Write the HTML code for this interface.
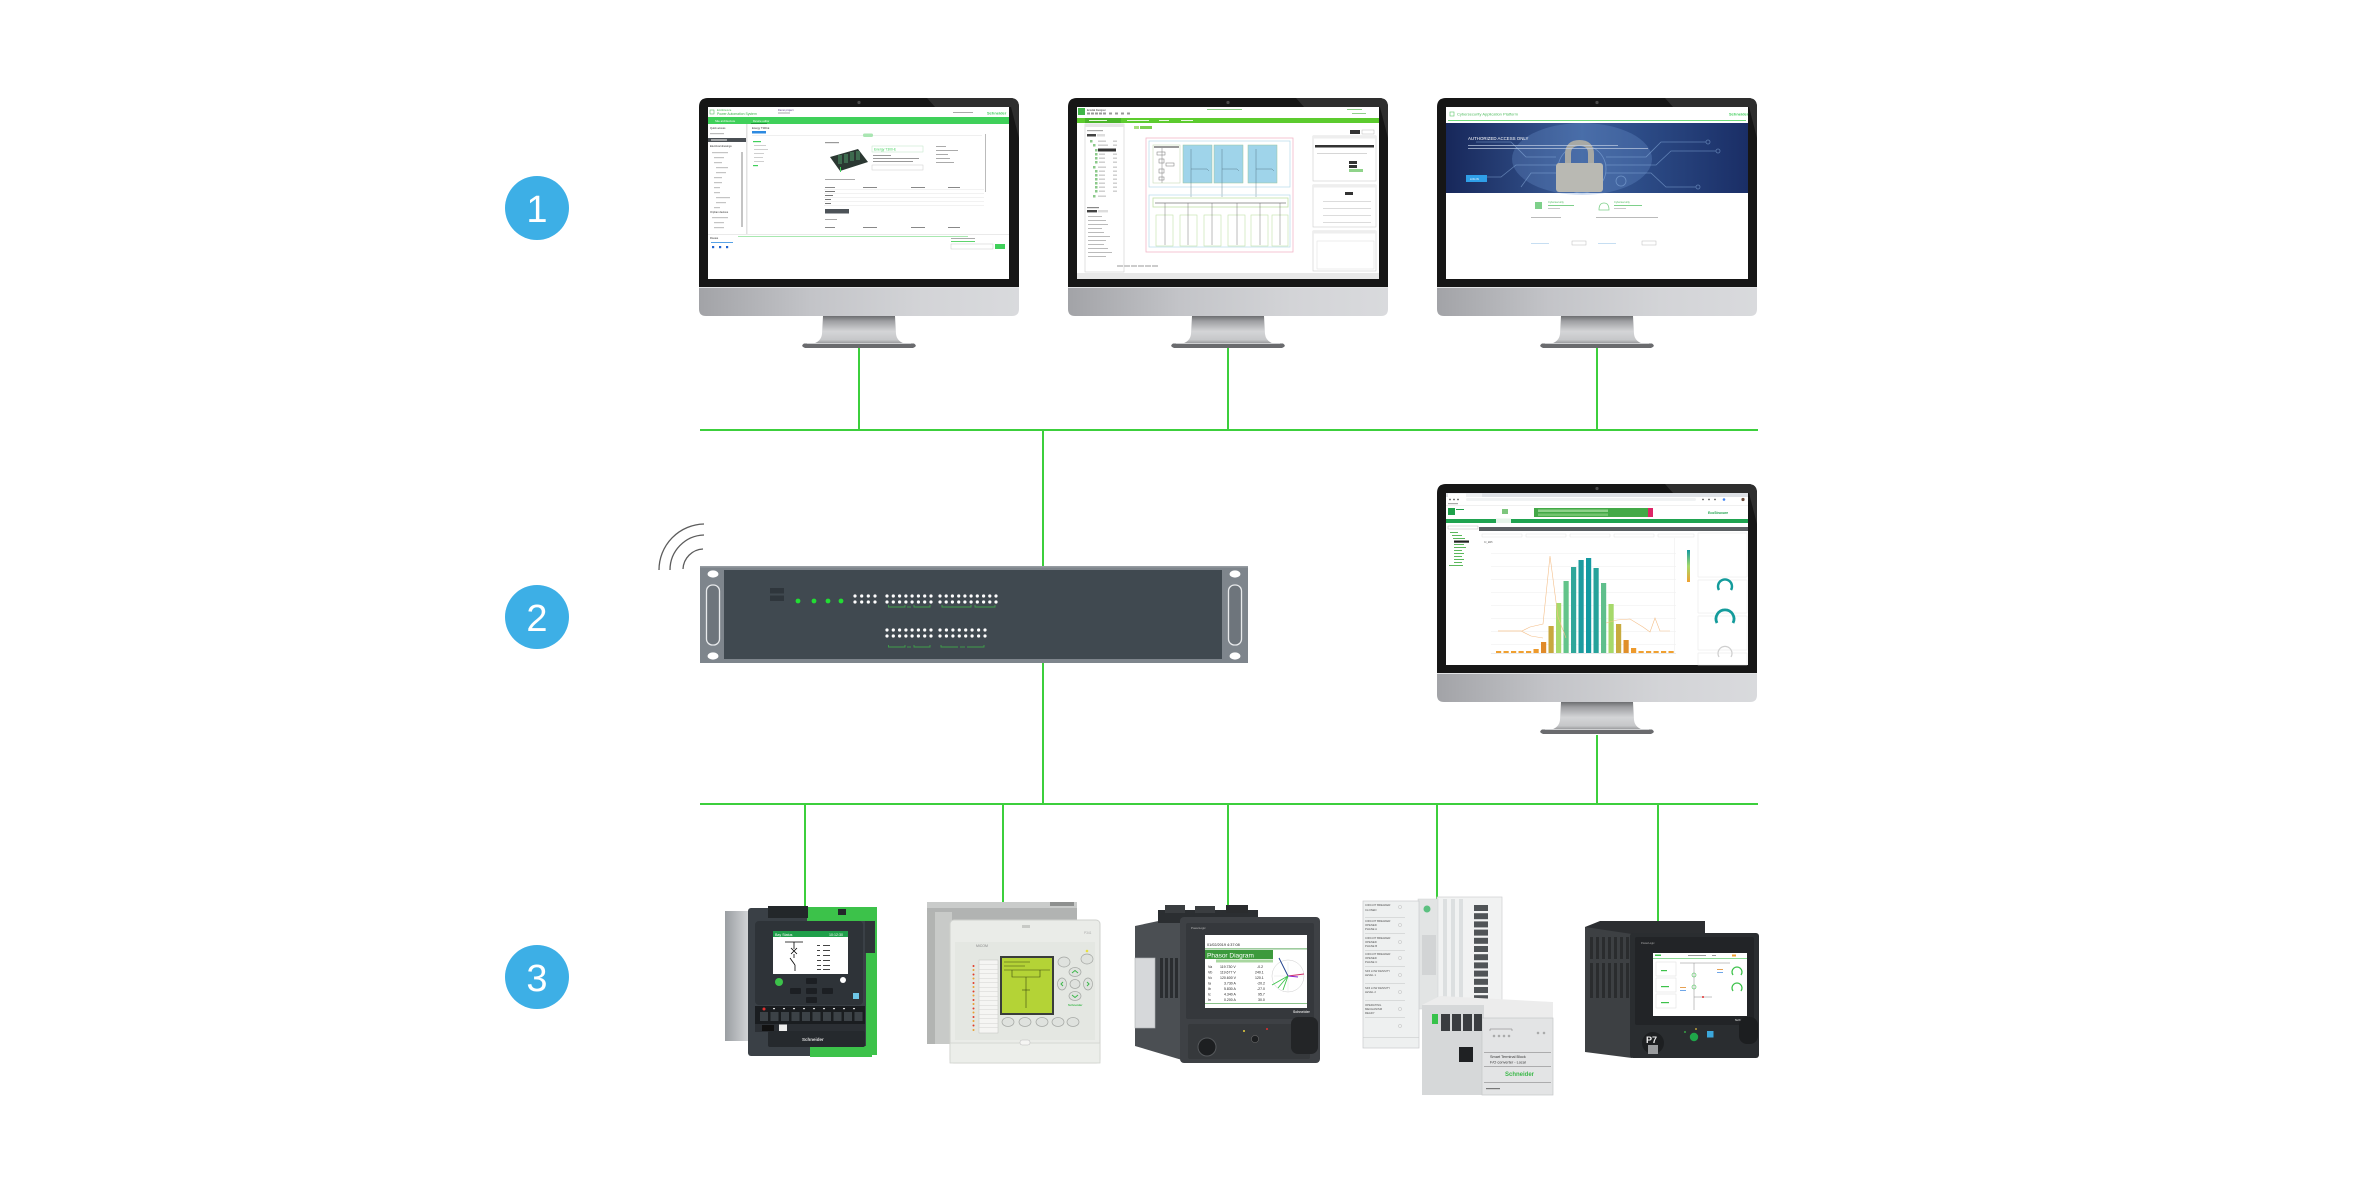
<!DOCTYPE html>
<html><head><meta charset="utf-8"><style>
html,body{margin:0;padding:0;background:#fff;}
svg{display:block;}
text{font-family:"Liberation Sans",sans-serif;}
</style></head><body>
<svg width="2360" height="1180" viewBox="0 0 2360 1180" xmlns="http://www.w3.org/2000/svg">
<defs>
<linearGradient id="chinG" x1="0" y1="0" x2="1" y2="0">
<stop offset="0" stop-color="#a2a3a7"/><stop offset="0.35" stop-color="#c3c4c8"/><stop offset="0.7" stop-color="#d3d4d7"/><stop offset="1" stop-color="#d9dadd"/></linearGradient>
<linearGradient id="neckG" x1="0" y1="0" x2="0" y2="1">
<stop offset="0" stop-color="#6c6d70"/><stop offset="0.18" stop-color="#9d9ea1"/><stop offset="0.55" stop-color="#d4d5d7"/><stop offset="0.85" stop-color="#c6c7c9"/><stop offset="1" stop-color="#8f9093"/></linearGradient>
<linearGradient id="bannerG" x1="0" y1="0" x2="1" y2="0">
<stop offset="0" stop-color="#17275a"/><stop offset="0.45" stop-color="#3a5d98"/><stop offset="0.65" stop-color="#2c4b86"/><stop offset="1" stop-color="#1a2e66"/></linearGradient>
<linearGradient id="sideG" x1="0" y1="0" x2="1" y2="0">
<stop offset="0" stop-color="#9a9ea2"/><stop offset="1" stop-color="#d8dadc"/></linearGradient>
<linearGradient id="legG" x1="0" y1="0" x2="0" y2="1">
<stop offset="0" stop-color="#149aa1"/><stop offset="0.5" stop-color="#a6d96a"/><stop offset="1" stop-color="#f0a030"/></linearGradient>
<g id="mon">
<path d="M0,9 Q0,0 9,0 H311 Q320,0 320,9 V190 H0 Z" fill="#161616"/>
<path d="M228,0 H311 Q320,0 320,9 V40 L312,9 H236 Z" fill="#2e2e2e"/>
<circle cx="160" cy="4.5" r="1.6" fill="#4a4a4a"/>
<path d="M0,189 H320 V211 Q320,218 313,218 H7 Q0,218 0,211 Z" fill="url(#chinG)"/>
<rect x="0" y="189" width="320" height="1" fill="#e2e3e5"/>
<path d="M124,218 H196 L197,236 Q198,244 207,246 H113 Q122,244 123,236 Z" fill="url(#neckG)"/>
<path d="M105,245.5 H215 Q219,248 214,250 H106 Q101,248 105,245.5 Z" fill="#6a6b6e"/>
<rect x="108" y="245" width="104" height="1" fill="#cfd0d2"/>
</g>
</defs>

<!-- connector lines -->
<g stroke="#3ccf3c" stroke-width="2" fill="none">
<line x1="700" y1="430" x2="1758" y2="430"/>
<line x1="700" y1="804" x2="1758" y2="804"/>
<line x1="859" y1="348" x2="859" y2="430"/>
<line x1="1228" y1="348" x2="1228" y2="430"/>
<line x1="1597" y1="348" x2="1597" y2="430"/>
<line x1="1043" y1="430" x2="1043" y2="567"/>
<line x1="1043" y1="662" x2="1043" y2="804"/>
<line x1="1597" y1="735" x2="1597" y2="804"/>
<line x1="805" y1="804" x2="805" y2="908"/>
<line x1="1003" y1="804" x2="1003" y2="906"/>
<line x1="1228" y1="804" x2="1228" y2="908"/>
<line x1="1437" y1="804" x2="1437" y2="900"/>
<line x1="1658" y1="804" x2="1658" y2="924"/>
</g>

<!-- numbered circles -->
<circle cx="537" cy="208" r="32" fill="#3dafe6"/>
<text x="537" y="222" font-size="38" fill="#fff" text-anchor="middle">1</text>
<circle cx="537" cy="617" r="32" fill="#3dafe6"/>
<text x="537" y="631" font-size="38" fill="#fff" text-anchor="middle">2</text>
<circle cx="537" cy="977" r="32" fill="#3dafe6"/>
<text x="537" y="991" font-size="38" fill="#fff" text-anchor="middle">3</text>

<!-- monitors frames -->
<use href="#mon" x="699" y="98"/>
<use href="#mon" x="1068" y="98"/>
<use href="#mon" x="1437" y="98"/>
<use href="#mon" x="1437" y="484"/>

<!-- Monitor 1 screen -->
<g transform="translate(708,107)">
<rect width="301" height="172" fill="#fff"/>
<rect x="2" y="3" width="4" height="4" fill="none" stroke="#3bb54a" stroke-width="0.5"/>
<text x="9" y="4" font-size="2.6" fill="#3bb54a">EcoStruxure</text>
<text x="9" y="8" font-size="3.4" fill="#3bb54a">Power Automation System</text>
<text x="70" y="4" font-size="2.6" fill="#5a3a8a">Demo project</text>
<rect x="70" y="5.5" width="12" height="1" fill="#aaa"/>
<rect x="245" y="5" width="20" height="1" fill="#aaa"/>
<text x="279" y="7.5" font-size="4" fill="#3dcd58" font-weight="bold">Schneider</text>
<rect x="0" y="10" width="301" height="7" fill="#3fd05a"/>
<text x="7" y="15" font-size="2.8" fill="#fff">Site architecture</text>
<text x="45" y="15" font-size="2.8" fill="#fff">Device editor</text>
<rect x="43" y="16" width="16" height="1" fill="#1f9a3a"/>
<text x="2" y="22" font-size="2.6" fill="#333">Quick access</text>
<rect x="2" y="26" width="14" height="1.2" fill="#bbb"/>
<rect x="0" y="31" width="38" height="4" fill="#4a4f54"/>
<rect x="3" y="32.4" width="16" height="1.2" fill="#ddd"/>
<text x="2" y="40" font-size="2.6" fill="#333">Electrical drawings</text>
<g fill="#c4c4c4">
<rect x="4" y="45" width="16" height="1.2"/><rect x="6" y="50" width="10" height="1.2"/><rect x="6" y="55" width="8" height="1.2"/>
<rect x="8" y="60" width="12" height="1.2"/><rect x="8" y="65" width="10" height="1.2"/><rect x="6" y="70" width="8" height="1.2"/>
<rect x="6" y="75" width="8" height="1.2"/><rect x="6" y="80" width="6" height="1.2"/><rect x="6" y="85" width="6" height="1.2"/>
<rect x="8" y="90" width="14" height="1.2"/><rect x="8" y="95" width="10" height="1.2"/><rect x="6" y="100" width="6" height="1.2"/>
<rect x="4" y="110" width="16" height="1.2"/><rect x="6" y="115" width="10" height="1.2"/><rect x="6" y="120" width="10" height="1.2"/>
<rect x="33" y="45" width="2" height="75"/>
</g>
<text x="2" y="106" font-size="2.6" fill="#333">Orphan devices</text>
<rect x="38" y="17" width="1.5" height="110" fill="#e2e2e2"/>
<text x="44" y="22" font-size="2.6" fill="#333">Energy T300-E</text>
<rect x="44" y="24" width="14" height="2.5" fill="#2d8ae0"/>
<rect x="44" y="28" width="230" height="0.6" fill="#e4e4e4"/>
<rect x="155" y="26.5" width="10" height="3.5" rx="1.5" fill="#a9e6b2"/>
<rect x="45" y="34" width="8" height="1.2" fill="#3fd05a"/>
<g fill="#cfcfcf"><rect x="46" y="38" width="12" height="1"/><rect x="46" y="42" width="14" height="1"/><rect x="46" y="46" width="10" height="1"/><rect x="46" y="50" width="9" height="1"/><rect x="46" y="54" width="10" height="1"/></g>
<rect x="45" y="58" width="5" height="1.2" fill="#3fd05a"/>
<rect x="117" y="35" width="14" height="1.2" fill="#999"/>
<polygon points="122,50 150,42 160,55 132,64" fill="#2b3832"/>
<g fill="#3e6b4f"><rect x="130" y="48" width="4" height="9"/><rect x="136" y="47" width="4" height="9"/><rect x="142" y="45" width="4" height="9"/><rect x="148" y="44" width="4" height="9"/></g>
<rect x="132" y="60" width="1" height="5" fill="#3fd05a"/>
<rect x="164" y="39" width="51" height="6" fill="none" stroke="#bde5c4" stroke-width="0.5"/>
<text x="166" y="43.6" font-size="3.3" fill="#3fd05a">Energy T300-E</text>
<g fill="#999"><rect x="165" y="48" width="18" height="1"/><rect x="165" y="51" width="46" height="1"/><rect x="165" y="54" width="40" height="1"/></g>
<rect x="164" y="58" width="51" height="5" fill="none" stroke="#ccc" stroke-width="0.5"/>
<g fill="#aaa"><rect x="228" y="39" width="10" height="1"/><rect x="228" y="43" width="22" height="1"/><rect x="228" y="47" width="12" height="1"/><rect x="228" y="51" width="14" height="1"/><rect x="228" y="55" width="18" height="1"/></g>
<rect x="117" y="72" width="30" height="1" fill="#aaa"/>
<g fill="#888"><rect x="117" y="80" width="10" height="1"/><rect x="155" y="80" width="14" height="1"/><rect x="203" y="80" width="14" height="1"/><rect x="240" y="80" width="12" height="1"/></g>
<g fill="#e6e6e6"><rect x="116" y="82" width="160" height="0.5"/><rect x="116" y="86" width="160" height="0.5"/><rect x="116" y="90" width="160" height="0.5"/><rect x="116" y="94" width="160" height="0.5"/><rect x="116" y="98" width="160" height="0.5"/></g>
<g fill="#777"><rect x="117" y="84" width="10" height="1"/><rect x="117" y="88" width="8" height="1"/><rect x="117" y="92" width="6" height="1"/><rect x="117" y="96" width="6" height="1"/></g>
<rect x="117" y="102" width="24" height="4.5" fill="#4d5358"/>
<rect x="117" y="112" width="12" height="1" fill="#aaa"/>
<g fill="#888"><rect x="117" y="120" width="10" height="1"/><rect x="155" y="120" width="14" height="1"/><rect x="203" y="120" width="14" height="1"/><rect x="240" y="120" width="12" height="1"/></g>
<rect x="277" y="27" width="1" height="58" fill="#bbb"/>
<rect x="0" y="127" width="301" height="0.6" fill="#ddd"/>
<rect x="30" y="129" width="230" height="0.6" fill="#6fd97c"/>
<text x="2" y="132" font-size="2.6" fill="#333">Routes</text>
<g fill="#2165d0"><rect x="4" y="139" width="2.2" height="2.2"/><rect x="11" y="139" width="2.2" height="2.2"/><rect x="18" y="139" width="2.2" height="2.2"/></g>
<rect x="3" y="135" width="22" height="0.8" fill="#2d8ae0"/>
<rect x="243" y="131" width="24" height="1" fill="#aaa"/><rect x="243" y="134" width="24" height="1" fill="#5fd46e"/>
<rect x="243" y="137" width="42" height="5" fill="#fff" stroke="#bbb" stroke-width="0.4"/>
<rect x="287" y="137" width="10" height="5" fill="#3fd05a"/>
</g>

<!-- Monitor 2 screen -->
<g transform="translate(1077,107)">
<rect width="302" height="172" fill="#fff"/>
<rect x="1" y="1" width="7" height="7" fill="#41b649"/>
<text x="10" y="3.8" font-size="2.5" fill="#333">Ecodial Designer</text>
<g fill="#999"><rect x="10" y="5.5" width="3" height="2"/><rect x="14" y="5.5" width="3" height="2"/><rect x="18" y="5.5" width="3" height="2"/><rect x="22" y="5.5" width="3" height="2"/><rect x="26" y="5.5" width="3" height="2"/><rect x="32" y="5.5" width="3" height="2"/><rect x="38" y="5.5" width="3" height="2"/><rect x="44" y="5.5" width="3" height="2"/><rect x="50" y="5.5" width="3" height="2"/></g>
<rect x="130" y="2" width="35" height="1" fill="#8fd08a"/>
<rect x="270" y="2" width="15" height="1" fill="#8fd08a"/><rect x="275" y="6" width="14" height="1" fill="#8fd08a"/>
<rect x="0" y="11" width="302" height="5" fill="#5ccb2e"/>
<rect x="8" y="11" width="36" height="5" fill="#4ab52a"/>
<g fill="#e8f7df"><rect x="12" y="13" width="18" height="1"/><rect x="50" y="13" width="22" height="1"/><rect x="82" y="13" width="10" height="1"/><rect x="104" y="13" width="12" height="1"/></g>
<rect x="8" y="17" width="39" height="148" fill="#fff" stroke="#cfcfcf" stroke-width="0.6"/>
<rect x="8" y="17" width="39" height="3" fill="#e6e6e6"/>
<rect x="10" y="23" width="16" height="1.2" fill="#aaa"/>
<rect x="10" y="27" width="9" height="2.5" fill="#444"/>
<rect x="20" y="27" width="8" height="2.5" fill="#ddd"/>
<g fill="#8bc98a">
<rect x="13" y="33" width="2.5" height="2.5"/><rect x="16" y="37" width="2.5" height="2.5"/><rect x="18" y="42" width="2.5" height="2.5"/><rect x="18" y="46" width="2.5" height="2.5"/><rect x="18" y="50" width="2.5" height="2.5"/><rect x="18" y="54" width="2.5" height="2.5"/><rect x="16" y="59" width="2.5" height="2.5"/><rect x="18" y="63" width="2.5" height="2.5"/><rect x="18" y="67" width="2.5" height="2.5"/><rect x="18" y="71" width="2.5" height="2.5"/><rect x="18" y="75" width="2.5" height="2.5"/><rect x="18" y="79" width="2.5" height="2.5"/><rect x="18" y="83" width="2.5" height="2.5"/><rect x="16" y="88" width="2.5" height="2.5"/></g>
<rect x="21" y="41.5" width="18" height="3" fill="#333"/>
<g fill="#ccc"><rect x="21" y="33.5" width="8" height="1.4"/><rect x="21" y="37.5" width="10" height="1.4"/><rect x="22" y="46.5" width="6" height="1.4"/><rect x="22" y="50.5" width="6" height="1.4"/><rect x="22" y="54.5" width="6" height="1.4"/><rect x="21" y="59.5" width="8" height="1.4"/><rect x="22" y="63.5" width="6" height="1.4"/><rect x="22" y="67.5" width="6" height="1.4"/><rect x="22" y="71.5" width="6" height="1.4"/><rect x="22" y="75.5" width="6" height="1.4"/><rect x="22" y="79.5" width="6" height="1.4"/><rect x="22" y="83.5" width="6" height="1.4"/><rect x="21" y="88.5" width="8" height="1.4"/>
<rect x="36" y="33.5" width="4" height="1.4"/><rect x="36" y="37.5" width="4" height="1.4"/><rect x="36" y="46.5" width="4" height="1.4"/><rect x="36" y="50.5" width="4" height="1.4"/><rect x="36" y="54.5" width="4" height="1.4"/><rect x="36" y="59.5" width="4" height="1.4"/><rect x="36" y="63.5" width="4" height="1.4"/><rect x="36" y="67.5" width="4" height="1.4"/><rect x="36" y="71.5" width="4" height="1.4"/><rect x="36" y="75.5" width="4" height="1.4"/><rect x="36" y="79.5" width="4" height="1.4"/><rect x="36" y="83.5" width="4" height="1.4"/></g>
<rect x="10" y="100" width="12" height="1.2" fill="#888"/>
<rect x="10" y="103" width="10" height="2.4" fill="#444"/><rect x="21" y="103" width="10" height="2.4" fill="#ddd"/>
<g fill="#bbb"><rect x="11" y="109" width="14" height="1"/><rect x="11" y="113" width="18" height="1"/><rect x="11" y="117" width="20" height="1"/><rect x="11" y="121" width="14" height="1"/><rect x="11" y="125" width="16" height="1"/><rect x="11" y="129" width="22" height="1"/><rect x="11" y="133" width="18" height="1"/><rect x="11" y="137" width="16" height="1"/><rect x="11" y="141" width="20" height="1"/><rect x="11" y="145" width="24" height="1"/><rect x="11" y="149" width="18" height="1"/></g>
<rect x="57" y="19" width="5" height="3" fill="#a7e07c"/><rect x="63" y="19" width="12" height="3" fill="#7ccf4f"/>
<rect x="69" y="31" width="147" height="114" fill="none" stroke="#f2b7c8" stroke-width="0.8"/>
<rect x="72" y="34" width="141" height="46" fill="none" stroke="#b6dcea" stroke-width="0.7"/>
<rect x="76" y="38" width="27" height="38" fill="#fff" stroke="#c7dcb6" stroke-width="0.6"/>
<rect x="77" y="39" width="25" height="2" fill="#999"/>
<g fill="none" stroke="#777" stroke-width="0.5"><rect x="80" y="45" width="8" height="3"/><rect x="82" y="52" width="5" height="4"/><rect x="82" y="62" width="5" height="4"/><rect x="89" y="56" width="8" height="3"/><rect x="82" y="70" width="5" height="3"/></g>
<line x1="85" y1="41" x2="85" y2="76" stroke="#666" stroke-width="0.4"/>
<rect x="106" y="38" width="29" height="38" fill="#9fd4ea" stroke="#9cc79a" stroke-width="0.5"/>
<rect x="137" y="38" width="29" height="38" fill="#9fd4ea" stroke="#9cc79a" stroke-width="0.5"/>
<rect x="171" y="38" width="29" height="38" fill="#9fd4ea" stroke="#9cc79a" stroke-width="0.5"/>
<g stroke="#4a6a7a" stroke-width="0.4" fill="none">
<line x1="114" y1="42" x2="114" y2="90"/><line x1="145" y1="42" x2="145" y2="90"/><line x1="179" y1="42" x2="179" y2="90"/>
<polyline points="114,62 130,62 132,64"/><polyline points="145,62 160,62 162,64"/><polyline points="179,62 195,62 197,64"/>
</g>
<rect x="72" y="88" width="141" height="52" fill="none" stroke="#b6dcea" stroke-width="0.7"/>
<rect x="76" y="91" width="135" height="9" fill="none" stroke="#c2e2a8" stroke-width="0.8"/>
<line x1="78" y1="96" x2="209" y2="96" stroke="#333" stroke-width="0.5"/>
<g fill="none" stroke="#c2e2a8" stroke-width="0.6">
<rect x="79" y="108" width="17" height="31"/><rect x="103" y="108" width="17" height="31"/><rect x="127" y="108" width="17" height="31"/><rect x="151" y="108" width="17" height="31"/><rect x="174" y="108" width="17" height="31"/><rect x="195" y="108" width="16" height="31"/></g>
<g stroke="#555" stroke-width="0.4"><line x1="88" y1="96" x2="88" y2="138"/><line x1="111" y1="96" x2="111" y2="138"/><line x1="135" y1="96" x2="135" y2="138"/><line x1="160" y1="96" x2="160" y2="138"/><line x1="183" y1="96" x2="183" y2="138"/><line x1="203" y1="96" x2="203" y2="138"/></g>
<g fill="#ccc"><rect x="40" y="158" width="6" height="2"/><rect x="47" y="158" width="6" height="2"/><rect x="54" y="158" width="6" height="2"/><rect x="61" y="158" width="6" height="2"/><rect x="68" y="158" width="6" height="2"/><rect x="75" y="158" width="6" height="2"/></g>
<rect x="273" y="23" width="10" height="4" fill="#333"/><rect x="285" y="23" width="12" height="4" fill="#fff" stroke="#aaa" stroke-width="0.4"/>
<rect x="236" y="29" width="63" height="45" fill="#fff" stroke="#ccc" stroke-width="0.6"/>
<rect x="236" y="29" width="63" height="2.5" fill="#eee"/>
<rect x="238" y="38" width="59" height="2.5" fill="#333"/>
<rect x="240" y="46" width="50" height="0.6" fill="#bbb"/>
<rect x="272" y="54" width="8" height="3" fill="#333"/><rect x="272" y="58" width="8" height="3" fill="#333"/><rect x="272" y="62" width="14" height="3" fill="#8fd38a"/>
<rect x="236" y="78" width="63" height="42" fill="#fff" stroke="#ccc" stroke-width="0.6"/>
<rect x="236" y="78" width="63" height="2.5" fill="#eee"/>
<rect x="268" y="85" width="8" height="3" fill="#333"/>
<g fill="#ccc"><rect x="246" y="94" width="48" height="0.7"/><rect x="246" y="101" width="48" height="0.7"/><rect x="246" y="108" width="48" height="0.7"/><rect x="246" y="115" width="48" height="0.7"/></g>
<rect x="236" y="124" width="63" height="40" fill="#fff" stroke="#ccc" stroke-width="0.6"/>
<rect x="236" y="124" width="63" height="2.5" fill="#eee"/>
<rect x="240" y="134" width="57" height="28" fill="none" stroke="#ddd" stroke-width="0.5"/>
<rect x="0" y="166" width="302" height="6" fill="#e8e8e8"/>
</g>

<!-- Monitor 3 screen -->
<g transform="translate(1446,107)">
<rect width="302" height="172" fill="#fff"/>
<rect x="4" y="5" width="4" height="4" fill="none" stroke="#5cc76a" stroke-width="0.6"/>
<text x="11" y="8.5" font-size="4" fill="#4cbb5c">Cybersecurity Application Platform</text>
<text x="283" y="8.5" font-size="4" fill="#3dcd58" font-weight="bold">Schneider</text>
<rect x="2" y="13" width="298" height="1" fill="#6fdc7a"/>
<rect x="0" y="16" width="302" height="70" fill="url(#bannerG)"/>
<ellipse cx="136" cy="52" rx="70" ry="36" fill="#6d95cf" opacity="0.3"/>
<g fill="none" stroke="#8fb4e2" stroke-width="0.8" opacity="0.55">
<circle cx="136" cy="62" r="24"/>
<polyline points="160,50 200,50 215,35 260,35"/><polyline points="160,58 210,58 225,44 270,44"/><polyline points="160,66 205,66 220,80 250,80"/>
<polyline points="110,50 80,50 65,35 30,35"/><polyline points="110,58 70,58 55,70 20,70"/><polyline points="112,66 85,66 75,80"/>
<circle cx="262" cy="35" r="2"/><circle cx="272" cy="44" r="2"/><circle cx="252" cy="80" r="2"/><circle cx="175" cy="74" r="5"/>
</g>
<path d="M122,58 V47 Q122,36 133.5,36 Q145,36 145,47 V58" fill="none" stroke="#a8a9a5" stroke-width="6"/>
<rect x="110" y="56" width="47" height="29" rx="3" fill="#b9b9b3"/>
<text x="22" y="33" font-size="4.4" fill="#fff">AUTHORIZED ACCESS ONLY</text>
<rect x="22" y="38" width="150" height="0.9" fill="#c6d1e6" opacity="0.75"/>
<rect x="22" y="41" width="180" height="0.9" fill="#c6d1e6" opacity="0.75"/>
<rect x="20" y="68" width="21" height="7" fill="#2f9fe8"/>
<text x="24" y="72.8" font-size="2.6" fill="#fff">LOG IN</text>
<rect x="89" y="95" width="7" height="7" fill="#7ed08a"/>
<text x="102" y="96" font-size="2.6" fill="#4cbb5c">Cybersecurity</text>
<rect x="102" y="98" width="26" height="1" fill="#7ed08a"/><rect x="102" y="101" width="12" height="0.8" fill="#bbb"/>
<path d="M153,103 Q153,96 158,96 Q163,96 163,103 Z" fill="none" stroke="#7ed08a" stroke-width="0.8"/>
<text x="168" y="96" font-size="2.6" fill="#4cbb5c">Cybersecurity</text>
<rect x="168" y="98" width="28" height="1" fill="#7ed08a"/><rect x="168" y="101" width="12" height="0.8" fill="#bbb"/>
<rect x="85" y="110" width="30" height="0.8" fill="#aaa"/><rect x="150" y="110" width="62" height="0.8" fill="#aaa"/>
<rect x="85" y="136" width="18" height="0.8" fill="#b8d6ef"/><rect x="152" y="136" width="18" height="0.8" fill="#b8d6ef"/>
<rect x="126" y="134" width="14" height="4" fill="none" stroke="#bbb" stroke-width="0.5"/><rect x="196" y="134" width="14" height="4" fill="none" stroke="#bbb" stroke-width="0.5"/>
</g>

<!-- Monitor 4 screen -->
<g transform="translate(1446,493)">
<rect width="302" height="172" fill="#fff"/>
<rect x="0" y="0" width="302" height="4" fill="#dee1e6"/>
<rect x="2" y="0.5" width="18" height="3.5" fill="#fff"/><rect x="20" y="0.5" width="16" height="3.5" fill="#eef0f2"/>
<rect x="20" y="5" width="230" height="3" rx="1.5" fill="#f1f3f4"/>
<g fill="#777"><rect x="3" y="5.8" width="2" height="1.4"/><rect x="7" y="5.8" width="2" height="1.4"/><rect x="11" y="5.8" width="2" height="1.4"/><rect x="256" y="5.8" width="2" height="1.4"/><rect x="262" y="5.8" width="2" height="1.4"/><rect x="268" y="5.8" width="2" height="1.4"/></g>
<circle cx="278" cy="6.5" r="1.3" fill="#4285f4"/><circle cx="297" cy="6.5" r="1.6" fill="#6b4a3a"/>
<rect x="2" y="10" width="10" height="1.2" fill="#aaa"/>
<rect x="0" y="12.5" width="302" height="0.5" fill="#e0e0e0"/>
<rect x="2" y="15" width="7" height="7" fill="#1ea14a"/>
<rect x="10" y="16" width="8" height="1" fill="#1ea14a"/>
<rect x="56" y="16" width="6" height="5" fill="#5cb85c" opacity="0.8"/>
<rect x="88" y="15" width="114" height="9" fill="#43a947"/>
<rect x="92" y="16.5" width="70" height="2.5" fill="#8fd28b"/>
<rect x="92" y="20.5" width="70" height="2.5" fill="#74c470"/>
<rect x="202" y="15" width="5" height="9" fill="#dd2566"/>
<text x="262" y="21" font-size="3.4" fill="#1ea14a" font-weight="bold">EcoStruxure</text>
<rect x="0" y="26" width="302" height="4" fill="#1fa350"/>
<rect x="50" y="25.5" width="15" height="4.5" fill="#e6f4ea"/>
<rect x="2" y="33" width="30" height="3" fill="#fff" stroke="#aaa" stroke-width="0.4"/>
<g fill="#5cb85c"><rect x="4" y="39" width="8" height="1"/><rect x="6" y="42" width="10" height="1"/><rect x="7" y="45" width="12" height="1"/><rect x="8" y="51" width="10" height="1"/><rect x="8" y="54" width="12" height="1"/><rect x="8" y="57" width="8" height="1"/><rect x="8" y="60" width="10" height="1"/><rect x="8" y="63" width="8" height="1"/><rect x="8" y="66" width="10" height="1"/><rect x="8" y="69" width="8" height="1"/><rect x="3" y="72" width="14" height="1"/></g>
<rect x="8" y="47.5" width="15" height="2.2" fill="#222"/>
<rect x="33" y="34" width="269" height="4" fill="#5a5e62"/>
<g fill="none" stroke="#ddd" stroke-width="0.4"><rect x="36" y="41" width="40" height="3"/><rect x="80" y="41" width="40" height="3"/><rect x="124" y="41" width="40" height="3"/><rect x="168" y="41" width="40" height="3"/><rect x="212" y="41" width="36" height="3"/></g>
<text x="38" y="50" font-size="2.4" fill="#555">Cr_kWh</text>
<g fill="#eee"><rect x="45" y="60" width="185" height="0.5"/><rect x="45" y="73" width="185" height="0.5"/><rect x="45" y="86" width="185" height="0.5"/><rect x="45" y="99" width="185" height="0.5"/><rect x="45" y="112" width="185" height="0.5"/><rect x="45" y="125" width="185" height="0.5"/><rect x="45" y="138" width="185" height="0.5"/><rect x="45" y="151" width="185" height="0.5"/></g>
<rect x="45" y="160" width="185" height="0.6" fill="#ddd"/>
<g>
<rect x="50" y="158" width="5.2" height="2" fill="#f0a030"/>
<rect x="57.5" y="158" width="5.2" height="2" fill="#f0a030"/>
<rect x="65" y="158" width="5.2" height="2" fill="#f0a030"/>
<rect x="72.5" y="158" width="5.2" height="2" fill="#f0a030"/>
<rect x="80" y="158" width="5.2" height="2" fill="#f0a030"/>
<rect x="87.5" y="156" width="5.2" height="4" fill="#ee9a2c"/>
<rect x="95" y="149" width="5.2" height="11" fill="#e08a2a"/>
<rect x="102.5" y="133" width="5.2" height="27" fill="#c8a83e"/>
<rect x="110" y="110" width="5.2" height="50" fill="#a8da6c"/>
<rect x="117.5" y="88" width="5.2" height="72" fill="#63c48a"/>
<rect x="125" y="74" width="5.2" height="86" fill="#2fa79a"/>
<rect x="132.5" y="67" width="5.2" height="93" fill="#1d9b9f"/>
<rect x="140" y="65" width="5.2" height="95" fill="#149aa1"/>
<rect x="147.5" y="75" width="5.2" height="85" fill="#27a39b"/>
<rect x="155" y="90" width="5.2" height="70" fill="#5fbf8c"/>
<rect x="162.5" y="111" width="5.2" height="49" fill="#a6d96a"/>
<rect x="170" y="131" width="5.2" height="29" fill="#c8ab3e"/>
<rect x="177.5" y="147" width="5.2" height="13" fill="#e08f2a"/>
<rect x="185" y="155" width="5.2" height="5" fill="#ee9a2c"/>
<rect x="192.5" y="158" width="5.2" height="2" fill="#f0a030"/>
<rect x="200" y="158" width="5.2" height="2" fill="#f0a030"/>
<rect x="207.5" y="158" width="5.2" height="2" fill="#f0a030"/>
<rect x="215" y="158" width="5.2" height="2" fill="#f0a030"/>
<rect x="222.5" y="158" width="5.2" height="2" fill="#f0a030"/>
</g>
<polyline points="52,138 76,138 84,134 97,131 104,63 112,124 120,145" fill="none" stroke="#f4bf8a" stroke-width="0.6"/>
<polyline points="52,138 75,138 85,143 97,145" fill="none" stroke="#f4bf8a" stroke-width="0.6"/>
<polyline points="160,130 171,127 184,126 197,134 204,139 209,125 214,138 224,138" fill="none" stroke="#f4bf8a" stroke-width="0.6"/>
<rect x="241" y="57" width="3" height="32" fill="url(#legG)"/>
<rect x="228" y="45" width="0.6" height="115" fill="#eee"/>
<g fill="none" stroke="#e6e6e6" stroke-width="0.5"><rect x="252" y="40" width="49" height="44"/><rect x="252" y="87" width="49" height="33"/><rect x="252" y="123" width="49" height="34"/><rect x="252" y="160" width="49" height="12"/></g>
<path d="M273,97 A7,7 0 1 1 285,97" fill="none" stroke="#139b9b" stroke-width="2.4"/>
<path d="M271,130 A9,9 0 1 1 287,130" fill="none" stroke="#139b9b" stroke-width="2.8"/>
<path d="M273,164 A7,7 0 1 1 285,164" fill="none" stroke="#cfcfcf" stroke-width="1.2"/>
</g>

<!-- Switch -->
<g>
<path d="M659,570 A46,46 0 0 1 704,524" fill="none" stroke="#5c5c5c" stroke-width="1.3"/>
<path d="M670,570 A35,35 0 0 1 704,535" fill="none" stroke="#5c5c5c" stroke-width="1.3"/>
<path d="M683,569 A21,21 0 0 1 703,549" fill="none" stroke="#5c5c5c" stroke-width="1.3"/>
<rect x="700" y="566" width="548" height="97" fill="#7e858c"/>
<rect x="724" y="570" width="498" height="89" fill="#404950"/>
<rect x="700" y="566" width="548" height="1.5" fill="#959ba1"/>
<ellipse cx="713" cy="574" rx="5.5" ry="3.6" fill="#fff"/>
<ellipse cx="713" cy="656" rx="5.5" ry="3.6" fill="#fff"/>
<ellipse cx="1235" cy="574" rx="5.5" ry="3.6" fill="#fff"/>
<ellipse cx="1235" cy="656" rx="5.5" ry="3.6" fill="#fff"/>
<rect x="706.5" y="585" width="13" height="60" rx="6" fill="#6e757c" stroke="#e8eaec" stroke-width="1.3"/>
<rect x="1228.5" y="585" width="13" height="60" rx="6" fill="#6e757c" stroke="#e8eaec" stroke-width="1.3"/>
<rect x="770" y="588" width="14" height="5.5" fill="#2f363c"/>
<rect x="770" y="595.5" width="14" height="5.5" fill="#2f363c"/>
<g fill="#22dd33"><circle cx="798" cy="601" r="2.4"/><circle cx="814" cy="601" r="2.4"/><circle cx="828" cy="601" r="2.4"/><circle cx="841" cy="601" r="2.4"/></g>
<g fill="#fff">
<circle cx="855" cy="596" r="1.6"/><circle cx="861.7" cy="596" r="1.6"/><circle cx="868.3" cy="596" r="1.6"/><circle cx="875" cy="596" r="1.6"/>
<circle cx="855" cy="602" r="1.6"/><circle cx="861.7" cy="602" r="1.6"/><circle cx="868.3" cy="602" r="1.6"/><circle cx="875" cy="602" r="1.6"/>
<circle cx="887" cy="596" r="1.6"/><circle cx="893.3" cy="596" r="1.6"/><circle cx="899.6" cy="596" r="1.6"/><circle cx="905.9" cy="596" r="1.6"/><circle cx="912.1" cy="596" r="1.6"/><circle cx="918.4" cy="596" r="1.6"/><circle cx="924.7" cy="596" r="1.6"/><circle cx="931" cy="596" r="1.6"/>
<circle cx="887" cy="602" r="1.6"/><circle cx="893.3" cy="602" r="1.6"/><circle cx="899.6" cy="602" r="1.6"/><circle cx="905.9" cy="602" r="1.6"/><circle cx="912.1" cy="602" r="1.6"/><circle cx="918.4" cy="602" r="1.6"/><circle cx="924.7" cy="602" r="1.6"/><circle cx="931" cy="602" r="1.6"/>
<circle cx="940" cy="596" r="1.6"/><circle cx="946.2" cy="596" r="1.6"/><circle cx="952.4" cy="596" r="1.6"/><circle cx="958.7" cy="596" r="1.6"/><circle cx="964.9" cy="596" r="1.6"/><circle cx="971.1" cy="596" r="1.6"/><circle cx="977.3" cy="596" r="1.6"/><circle cx="983.6" cy="596" r="1.6"/><circle cx="989.8" cy="596" r="1.6"/><circle cx="996" cy="596" r="1.6"/>
<circle cx="940" cy="602" r="1.6"/><circle cx="946.2" cy="602" r="1.6"/><circle cx="952.4" cy="602" r="1.6"/><circle cx="958.7" cy="602" r="1.6"/><circle cx="964.9" cy="602" r="1.6"/><circle cx="971.1" cy="602" r="1.6"/><circle cx="977.3" cy="602" r="1.6"/><circle cx="983.6" cy="602" r="1.6"/><circle cx="989.8" cy="602" r="1.6"/><circle cx="996" cy="602" r="1.6"/>
<circle cx="887" cy="630" r="1.6"/><circle cx="893.3" cy="630" r="1.6"/><circle cx="899.6" cy="630" r="1.6"/><circle cx="905.9" cy="630" r="1.6"/><circle cx="912.1" cy="630" r="1.6"/><circle cx="918.4" cy="630" r="1.6"/><circle cx="924.7" cy="630" r="1.6"/><circle cx="931" cy="630" r="1.6"/>
<circle cx="887" cy="636" r="1.6"/><circle cx="893.3" cy="636" r="1.6"/><circle cx="899.6" cy="636" r="1.6"/><circle cx="905.9" cy="636" r="1.6"/><circle cx="912.1" cy="636" r="1.6"/><circle cx="918.4" cy="636" r="1.6"/><circle cx="924.7" cy="636" r="1.6"/><circle cx="931" cy="636" r="1.6"/>
<circle cx="940" cy="630" r="1.6"/><circle cx="946.4" cy="630" r="1.6"/><circle cx="952.9" cy="630" r="1.6"/><circle cx="959.3" cy="630" r="1.6"/><circle cx="965.7" cy="630" r="1.6"/><circle cx="972.1" cy="630" r="1.6"/><circle cx="978.6" cy="630" r="1.6"/><circle cx="985" cy="630" r="1.6"/>
<circle cx="940" cy="636" r="1.6"/><circle cx="946.4" cy="636" r="1.6"/><circle cx="952.9" cy="636" r="1.6"/><circle cx="959.3" cy="636" r="1.6"/><circle cx="965.7" cy="636" r="1.6"/><circle cx="972.1" cy="636" r="1.6"/><circle cx="978.6" cy="636" r="1.6"/><circle cx="985" cy="636" r="1.6"/>
</g>
<g fill="none" stroke="#3fa04a" stroke-width="0.9">
<polyline points="888.5,605 888.5,607 905,607 905,605"/><line x1="907" y1="607" x2="911" y2="607"/><polyline points="914,605 914,607 930,607 930,605"/>
<polyline points="942,605 942,607 971,607 971,605"/><polyline points="975,605 975,607 995,607 995,605"/>
<polyline points="888.5,645 888.5,647 905,647 905,645"/><line x1="907" y1="647" x2="911" y2="647"/><polyline points="914,645 914,647 930,647 930,645"/>
<polyline points="941,645 941,647 958,647"/><line x1="960" y1="647" x2="965" y2="647"/><polyline points="967,647 984,647 984,645"/>
</g>
</g>

<!-- Device 1 -->
<g>
<rect x="725" y="911" width="26" height="130" fill="url(#sideG)"/>
<rect x="748" y="908" width="122" height="148" rx="3" fill="#3a4046"/>
<rect x="807" y="907" width="70" height="14" fill="#3cc24a"/>
<rect x="866" y="915" width="11" height="140" fill="#3cc24a"/>
<rect x="810" y="1046" width="62" height="11" fill="#3cc24a"/>
<rect x="865" y="921" width="10" height="32" fill="#2f3438"/>
<rect x="768" y="906" width="40" height="12" fill="#23272a"/>
<rect x="838" y="909" width="8" height="6" fill="#23272a"/>
<g fill="#ccc"><rect x="794" y="925" width="3" height="3"/><rect x="804" y="925" width="3" height="3"/><rect x="814" y="925" width="3" height="3"/><rect x="823" y="925" width="3" height="3"/></g>
<rect x="755" y="921" width="108" height="84" rx="4" fill="#2e3338"/>
<rect x="773" y="931" width="75" height="43" fill="#fff"/>
<rect x="773" y="931" width="75" height="6" fill="#1f9f4a"/>
<text x="775" y="935.8" font-size="3.6" fill="#fff">Bay Status</text>
<text x="829" y="935.8" font-size="3.6" fill="#fff">10:12:30</text>
<line x1="785" y1="942" x2="803" y2="942" stroke="#000" stroke-width="0.8"/>
<line x1="794" y1="942" x2="794" y2="949" stroke="#000" stroke-width="0.8"/>
<path d="M791,948 L797,954 M797,948 L791,954" stroke="#000" stroke-width="0.8"/>
<line x1="794" y1="954" x2="794" y2="958" stroke="#000" stroke-width="0.8"/>
<line x1="790" y1="958" x2="795" y2="965" stroke="#000" stroke-width="0.8"/>
<line x1="795" y1="965" x2="795" y2="971" stroke="#000" stroke-width="0.8"/>
<g fill="#444"><rect x="817" y="945" width="3" height="1"/><rect x="823" y="945" width="7" height="1"/><rect x="817" y="950" width="3" height="1"/><rect x="823" y="950" width="7" height="1"/><rect x="817" y="955" width="3" height="1"/><rect x="823" y="955" width="7" height="1"/><rect x="817" y="960" width="4" height="1"/><rect x="823" y="960" width="7" height="1"/><rect x="817" y="965" width="4" height="1"/><rect x="823" y="965" width="7" height="1"/><rect x="817" y="969" width="4" height="1"/><rect x="823" y="969" width="7" height="1"/></g>
<circle cx="779" cy="982" r="4" fill="#3cc24a"/>
<g fill="#1c1f23"><rect x="806" y="978" width="11" height="6" rx="1"/><rect x="790" y="988" width="11" height="6" rx="1"/><rect x="806" y="988" width="11" height="6" rx="1"/><rect x="822" y="988" width="11" height="6" rx="1"/><rect x="806" y="997" width="11" height="6" rx="1"/></g>
<circle cx="843" cy="980" r="3" fill="#fff"/>
<rect x="853" y="993" width="6" height="6" fill="#6ec6e6"/>
<rect x="755" y="1006" width="110" height="18" fill="#1a1d20"/>
<circle cx="764" cy="1009" r="1.5" fill="#e03030"/>
<g fill="#ddd"><rect x="773" y="1008" width="2" height="1.2"/><rect x="783" y="1008" width="2" height="1.2"/><rect x="793" y="1008" width="2" height="1.2"/><rect x="803" y="1008" width="2" height="1.2"/><rect x="813" y="1008" width="2" height="1.2"/><rect x="823" y="1008" width="2" height="1.2"/><rect x="833" y="1008" width="2" height="1.2"/><rect x="843" y="1008" width="2" height="1.2"/><rect x="853" y="1008" width="2" height="1.2"/></g>
<g fill="#3c4247"><rect x="760" y="1012" width="8" height="9"/><rect x="770.5" y="1012" width="8" height="9"/><rect x="781" y="1012" width="8" height="9"/><rect x="791.5" y="1012" width="8" height="9"/><rect x="802" y="1012" width="8" height="9"/><rect x="812.5" y="1012" width="8" height="9"/><rect x="823" y="1012" width="8" height="9"/><rect x="833.5" y="1012" width="8" height="9"/><rect x="844" y="1012" width="8" height="9"/><rect x="854.5" y="1012" width="8" height="9"/></g>
<rect x="755" y="1024" width="110" height="8" fill="#2b2f34"/>
<rect x="762" y="1025" width="12" height="6" fill="#111"/>
<rect x="779" y="1024.5" width="8" height="8" fill="#eee"/>
<rect x="768" y="1031" width="97" height="16" rx="2" fill="#25292d"/>
<text x="802" y="1041" font-size="4.5" fill="#ddd" font-weight="bold">Schneider</text>
</g>

<!-- Device 2 MiCOM -->
<g>
<rect x="927" y="902" width="150" height="32" fill="#b1b3b2"/>
<rect x="927" y="902" width="150" height="6" fill="#c9cbca"/>
<rect x="1050" y="902" width="24" height="4" fill="#8e908f"/>
<rect x="927" y="912" width="25" height="132" fill="#c8cac8"/>
<rect x="927" y="912" width="8" height="132" fill="#b2b4b2"/>
<rect x="950" y="920" width="150" height="143" rx="4" fill="#eaece8" stroke="#cfd1cd" stroke-width="1"/>
<rect x="1022" y="925" width="8" height="3" fill="#c8cac6"/>
<rect x="955" y="942" width="140" height="98" fill="#e4e7e2"/>
<text x="976" y="947" font-size="3.5" fill="#888">MiCOM</text>
<text x="1084" y="934" font-size="3.2" fill="#aaa">P341</text>
<rect x="979" y="960" width="19" height="73" fill="#f5f5f3" stroke="#bfc1be" stroke-width="0.5"/>
<g fill="#d2d4d0"><rect x="979" y="964.5" width="19" height="0.5"/><rect x="979" y="969" width="19" height="0.5"/><rect x="979" y="973.5" width="19" height="0.5"/><rect x="979" y="978" width="19" height="0.5"/><rect x="979" y="982.5" width="19" height="0.5"/><rect x="979" y="987" width="19" height="0.5"/><rect x="979" y="991.5" width="19" height="0.5"/><rect x="979" y="996" width="19" height="0.5"/><rect x="979" y="1000.5" width="19" height="0.5"/><rect x="979" y="1005" width="19" height="0.5"/><rect x="979" y="1009.5" width="19" height="0.5"/><rect x="979" y="1014" width="19" height="0.5"/><rect x="979" y="1018.5" width="19" height="0.5"/><rect x="979" y="1023" width="19" height="0.5"/><rect x="979" y="1027.5" width="19" height="0.5"/></g>
<g fill="#e03a2a"><circle cx="973.5" cy="966" r="1"/><circle cx="973.5" cy="974.5" r="1"/><circle cx="973.5" cy="983" r="1"/><circle cx="973.5" cy="991.5" r="1"/><circle cx="973.5" cy="1000" r="1"/><circle cx="973.5" cy="1008.5" r="1"/><circle cx="973.5" cy="1017" r="1"/><circle cx="973.5" cy="1025.5" r="1"/></g>
<g fill="#e8a030"><circle cx="973.5" cy="970" r="1"/><circle cx="973.5" cy="978.5" r="1"/><circle cx="973.5" cy="987" r="1"/><circle cx="973.5" cy="995.5" r="1"/><circle cx="973.5" cy="1004" r="1"/><circle cx="973.5" cy="1012.5" r="1"/><circle cx="973.5" cy="1021" r="1"/><circle cx="973.5" cy="1030" r="1"/></g>
<rect x="1000" y="956" width="54" height="59" fill="#3a3d3a"/>
<rect x="1002" y="958" width="50" height="55" fill="#b4d336"/>
<g stroke="#3b4a10" stroke-width="0.6" fill="none">
<line x1="1004" y1="962" x2="1030" y2="962"/><line x1="1004" y1="966" x2="1025" y2="966"/><line x1="1004" y1="970" x2="1050" y2="970"/>
<polyline points="1012,970 1012,977 1040,977 1040,970"/><line x1="1026" y1="977" x2="1026" y2="1008"/><line x1="1022" y1="990" x2="1030" y2="990"/>
</g>
<circle cx="1087" cy="951" r="1.3" fill="#e8e040"/>
<g fill="#dfe2de" stroke="#a4a7a3" stroke-width="0.7">
<ellipse cx="1064" cy="962" rx="6" ry="5"/><ellipse cx="1087" cy="959" rx="6" ry="5"/>
<ellipse cx="1075" cy="972" rx="6" ry="4.5"/><ellipse cx="1062" cy="984" rx="4.5" ry="6"/><ellipse cx="1075" cy="984" rx="5" ry="4.5"/><ellipse cx="1088" cy="984" rx="4.5" ry="6"/><ellipse cx="1075" cy="996" rx="6" ry="4.5"/>
<ellipse cx="1008" cy="1022" rx="6" ry="4.5"/><ellipse cx="1025" cy="1022" rx="6" ry="4.5"/><ellipse cx="1042" cy="1022" rx="6" ry="4.5"/><ellipse cx="1058" cy="1022" rx="6" ry="4.5"/><ellipse cx="1073" cy="1022" rx="6" ry="4.5"/>
</g>
<g stroke="#3cb84a" stroke-width="1" fill="none"><polyline points="1072,973 1075,970.5 1078,973"/><polyline points="1072,995 1075,997.5 1078,995"/><polyline points="1063,982 1061,984 1063,986"/><polyline points="1087,982 1089,984 1087,986"/></g>
<text x="1068" y="1006" font-size="3" fill="#3cb84a" font-weight="bold">Schneider</text>
<rect x="950" y="1043" width="150" height="20" fill="#eceeea" stroke="#d0d2ce" stroke-width="0.8"/>
<rect x="1020" y="1040" width="10" height="5" rx="2" fill="#f5f5f3" stroke="#bbb" stroke-width="0.5"/>
</g>

<!-- Device 3 PowerLogic -->
<g>
<polygon points="1135,926 1182,916 1182,1060 1135,1046" fill="#4b4f53"/>
<rect x="1135" y="958" width="20" height="70" fill="#d6d8da"/>
<rect x="1135" y="958" width="20" height="70" fill="none" stroke="#aeb1b4" stroke-width="0.6"/>
<g fill="#2a2d30"><rect x="1160" y="958" width="3" height="40"/><rect x="1165" y="958" width="3" height="40"/><rect x="1170" y="958" width="3" height="40"/><rect x="1175" y="958" width="3" height="40"/></g>
<rect x="1158" y="910" width="100" height="13" fill="#2b2e31"/>
<rect x="1165" y="905" width="20" height="8" fill="#3a3d40"/><rect x="1195" y="906" width="20" height="7" fill="#3a3d40"/><rect x="1226" y="905" width="22" height="8" fill="#2a2c2e"/>
<rect x="1180" y="917" width="140" height="146" rx="4" fill="#3e4145"/>
<rect x="1186" y="923" width="128" height="96" rx="2" fill="#35383c"/>
<rect x="1205" y="935" width="102" height="73" fill="#fff"/>
<text x="1191" y="929" font-size="2.8" fill="#bbb">PowerLogic</text>
<text x="1207" y="946" font-size="3.8" fill="#222">01/02/2019 4:37:08</text>
<rect x="1205" y="948.5" width="102" height="0.8" fill="#3c9a3c"/>
<rect x="1205" y="950" width="68" height="9" fill="#3c9a3c"/>
<text x="1207" y="957.5" font-size="6.5" fill="#fff">Phasor Diagram</text>
<rect x="1216" y="959.5" width="57" height="3" fill="#a9d7a0"/>
<g font-size="3.5" fill="#222">
<text x="1208" y="968">Va</text><text x="1208" y="973.5">Vb</text><text x="1208" y="979">Vc</text><text x="1208" y="984.5">Ia</text><text x="1208" y="990">Ib</text><text x="1208" y="995.5">Ic</text><text x="1208" y="1001">In</text>
<text x="1220" y="968">119.730 V</text><text x="1220" y="973.5">119.677 V</text><text x="1220" y="979">120.600 V</text><text x="1224" y="984.5">3.730 A</text><text x="1224" y="990">5.830 A</text><text x="1224" y="995.5">4.340 A</text><text x="1224" y="1001">0.200 A</text>
<text x="1257" y="968">-0.2</text><text x="1255" y="973.5">240.1</text><text x="1255" y="979">120.1</text><text x="1257" y="984.5">-20.2</text><text x="1257" y="990">-27.0</text><text x="1258" y="995.5">95.7</text><text x="1258" y="1001">30.0</text>
</g>
<circle cx="1288" cy="976" r="16" fill="none" stroke="#ccc" stroke-width="0.5"/>
<line x1="1274" y1="976" x2="1303" y2="976" stroke="#ddd" stroke-width="0.4"/>
<line x1="1288" y1="962" x2="1288" y2="992" stroke="#ddd" stroke-width="0.4"/>
<line x1="1288" y1="976" x2="1279" y2="958" stroke="#1a3b8a" stroke-width="0.9"/>
<line x1="1288" y1="976" x2="1304" y2="974" stroke="#d0306a" stroke-width="0.9"/>
<line x1="1288" y1="976" x2="1298" y2="977" stroke="#8a2ad0" stroke-width="0.9"/>
<line x1="1288" y1="976" x2="1278" y2="988" stroke="#3cc24a" stroke-width="0.9"/>
<line x1="1288" y1="976" x2="1283" y2="990" stroke="#3cc24a" stroke-width="0.9"/>
<line x1="1288" y1="976" x2="1272" y2="985" stroke="#3cc24a" stroke-width="0.9"/>
<rect x="1205" y="1003" width="102" height="0.6" fill="#3c9a3c"/>
<text x="1293" y="1013" font-size="3.5" fill="#ddd" font-weight="bold">Schneider</text>
<rect x="1188" y="1024" width="122" height="35" rx="2" fill="#36393c"/>
<circle cx="1207" cy="1047" r="9" fill="#1d1f21" stroke="#55585b" stroke-width="1"/>
<circle cx="1255" cy="1039" r="3.6" fill="#1d1f21" stroke="#666" stroke-width="0.6"/>
<circle cx="1244" cy="1031" r="1" fill="#e8d040"/>
<circle cx="1267" cy="1029" r="1" fill="#e03030"/>
<rect x="1291" y="1017" width="27" height="37" rx="7" fill="#232527"/>
</g>

<!-- Device 4 terminal block + gateway -->
<g>
<rect x="1437" y="897" width="65" height="106" fill="#f1f2f2" stroke="#cfd1d2" stroke-width="0.7"/>
<g fill="#dcdfe0"><rect x="1443" y="899" width="4" height="102"/><rect x="1451" y="899" width="4" height="102"/><rect x="1459" y="899" width="4" height="102"/></g>
<g fill="#505457">
<rect x="1474" y="905" width="14" height="6"/><rect x="1474" y="913.2" width="14" height="6"/><rect x="1474" y="921.4" width="14" height="6"/><rect x="1474" y="929.6" width="14" height="6"/><rect x="1474" y="937.8" width="14" height="6"/><rect x="1474" y="946" width="14" height="6"/><rect x="1474" y="954.2" width="14" height="6"/><rect x="1474" y="962.4" width="14" height="6"/><rect x="1474" y="970.6" width="14" height="6"/><rect x="1474" y="978.8" width="14" height="6"/><rect x="1474" y="987" width="14" height="6"/><rect x="1474" y="995.2" width="14" height="6"/></g>
<rect x="1418" y="899" width="20" height="110" fill="#e2e4e4" stroke="#cfd1d2" stroke-width="0.5"/>
<circle cx="1427" cy="909" r="3.5" fill="#5cc080"/>
<rect x="1422" y="935" width="14" height="40" fill="#d2d4d5"/>
<rect x="1363" y="901" width="56" height="147" fill="#eef0f0" stroke="#c9cbcc" stroke-width="0.7"/>
<g fill="#c9cbcc"><rect x="1365" y="917" width="40" height="0.6"/><rect x="1365" y="933" width="40" height="0.6"/><rect x="1365" y="950" width="40" height="0.6"/><rect x="1365" y="966" width="40" height="0.6"/><rect x="1365" y="983" width="40" height="0.6"/><rect x="1365" y="1000" width="40" height="0.6"/><rect x="1365" y="1017" width="40" height="0.6"/><rect x="1363" y="1037" width="56" height="0.6"/></g>
<g font-size="2.8" fill="#555">
<text x="1365" y="906">CIRCUIT BREAKER</text><text x="1365" y="911">CLOSED</text>
<text x="1365" y="922">CIRCUIT BREAKER</text><text x="1365" y="926">OPENED</text><text x="1365" y="930">PHASE A</text>
<text x="1365" y="939">CIRCUIT BREAKER</text><text x="1365" y="943">OPENED</text><text x="1365" y="947">PHASE B</text>
<text x="1365" y="955">CIRCUIT BREAKER</text><text x="1365" y="959">OPENED</text><text x="1365" y="963">PHASE C</text>
<text x="1365" y="972">SF6 LOW DENSITY</text><text x="1365" y="976">LEVEL 1</text>
<text x="1365" y="989">SF6 LOW DENSITY</text><text x="1365" y="993">LEVEL 2</text>
<text x="1365" y="1006">OPERATING</text><text x="1365" y="1010">MECHANISM</text><text x="1365" y="1014">READY</text>
</g>
<g fill="none" stroke="#bbb" stroke-width="0.5"><circle cx="1400" cy="907" r="1.6"/><circle cx="1400" cy="925" r="1.6"/><circle cx="1400" cy="942" r="1.6"/><circle cx="1400" cy="958" r="1.6"/><circle cx="1400" cy="975" r="1.6"/><circle cx="1400" cy="992" r="1.6"/><circle cx="1400" cy="1009" r="1.6"/><circle cx="1400" cy="1026" r="1.6"/></g>
<polygon points="1422,1005 1440,996 1553,1002 1553,1018 1482,1018" fill="#ececec"/>
<rect x="1422" y="1005" width="62" height="90" fill="#d6d8d9"/>
<rect x="1482" y="1018" width="71" height="77" fill="#e3e4e5" stroke="#c5c7c8" stroke-width="0.7"/>
<rect x="1432" y="1014" width="6" height="10" fill="#36c24a"/>
<g fill="#3a3d40"><rect x="1441" y="1014" width="9" height="17"/><rect x="1452" y="1014" width="9" height="17"/><rect x="1463" y="1014" width="9" height="17"/><rect x="1474" y="1014" width="8" height="17"/></g>
<rect x="1459" y="1047" width="14" height="15" fill="#1f2123"/>
<g fill="none" stroke="#777" stroke-width="0.5"><polyline points="1490,1031 1490,1029 1512,1029 1512,1031"/><circle cx="1494" cy="1036" r="1"/><circle cx="1499" cy="1036" r="1"/><circle cx="1504" cy="1036" r="1"/><circle cx="1509" cy="1036" r="1"/><circle cx="1538" cy="1033" r="1"/><circle cx="1544" cy="1033" r="1"/></g>
<rect x="1484" y="1052" width="67" height="0.6" fill="#888"/>
<text x="1490" y="1058" font-size="3.8" fill="#333">Smart Terminal Block</text>
<text x="1490" y="1063.5" font-size="3.8" fill="#333">F/O converter - Local</text>
<rect x="1484" y="1066" width="67" height="0.6" fill="#888"/>
<text x="1505" y="1076" font-size="6" fill="#3cb84a" font-weight="bold">Schneider</text>
<rect x="1484" y="1082" width="67" height="0.6" fill="#888"/>
<rect x="1486" y="1088" width="14" height="1.2" fill="#777"/>
</g>

<!-- Device 5 P7 -->
<g>
<polygon points="1585,927 1632,923 1632,1058 1585,1052" fill="#3d4043"/>
<polygon points="1585,927 1600,921 1705,921 1705,934 1632,934" fill="#2c2e31"/>
<g fill="#2a2c2e">
<rect x="1590" y="937" width="3" height="22"/><rect x="1596" y="937" width="3" height="22"/><rect x="1602" y="937" width="3" height="22"/><rect x="1608" y="937" width="3" height="22"/><rect x="1614" y="937" width="3" height="22"/><rect x="1620" y="937" width="3" height="22"/><rect x="1626" y="937" width="3" height="22"/>
<rect x="1590" y="963" width="3" height="35"/><rect x="1596" y="963" width="3" height="35"/><rect x="1602" y="963" width="3" height="35"/><rect x="1608" y="963" width="3" height="35"/><rect x="1614" y="963" width="3" height="35"/><rect x="1620" y="963" width="3" height="35"/><rect x="1626" y="963" width="3" height="35"/></g>
<rect x="1630" y="933" width="129" height="125" rx="3" fill="#2a2d30"/>
<rect x="1635" y="937" width="119" height="88" rx="2" fill="#222427"/>
<text x="1641" y="944" font-size="2.6" fill="#aaa">PowerLogic</text>
<rect x="1653" y="953" width="94" height="63" fill="#fff"/>
<rect x="1653" y="958" width="94" height="0.6" fill="#3cc24a"/>
<rect x="1655" y="954.5" width="6" height="1.5" fill="#3cc24a"/>
<g fill="#999"><rect x="1688" y="955" width="18" height="1"/><rect x="1712" y="955" width="4" height="1"/></g>
<rect x="1732" y="954.5" width="4" height="2" fill="#f0a030"/>
<g fill="none" stroke="#ddd" stroke-width="0.5"><rect x="1656" y="962" width="20" height="14"/><rect x="1656" y="978" width="20" height="14"/><rect x="1656" y="994" width="20" height="14"/></g>
<g fill="#3cc24a"><rect x="1661" y="970" width="6" height="1.2"/><rect x="1661" y="986" width="8" height="1.2"/><rect x="1661" y="1002" width="8" height="1.2"/></g>
<line x1="1680" y1="963" x2="1730" y2="963" stroke="#888" stroke-width="0.5"/>
<line x1="1694" y1="963" x2="1694" y2="1010" stroke="#888" stroke-width="0.5"/>
<circle cx="1694" cy="975" r="2" fill="none" stroke="#3cc24a" stroke-width="0.6"/>
<circle cx="1694" cy="987" r="2" fill="none" stroke="#3cc24a" stroke-width="0.6"/>
<line x1="1694" y1="997" x2="1712" y2="997" stroke="#888" stroke-width="0.5"/>
<circle cx="1703" cy="997" r="1" fill="#e03030"/>
<g fill="#e08a2a"><rect x="1680" y="987" width="6" height="0.8"/><rect x="1717" y="969" width="6" height="0.8"/></g>
<g fill="#4a90e2"><rect x="1680" y="990" width="6" height="0.8"/><rect x="1717" y="972" width="6" height="0.8"/></g>
<path d="M1733,975 A5,5 0 1 1 1741,975" fill="none" stroke="#3cc24a" stroke-width="1.3"/>
<path d="M1733,991 A5,5 0 1 1 1741,991" fill="none" stroke="#3cc24a" stroke-width="1.3"/>
<text x="1735" y="1021" font-size="3" fill="#ccc" font-weight="bold">Schneider</text>
<circle cx="1653" cy="1043" r="11" fill="#1d1f21"/>
<text x="1646" y="1043" font-size="9" fill="#eee" font-weight="bold">P7</text>
<rect x="1648" y="1045" width="10" height="9" fill="#9a9c9e"/>
<circle cx="1685" cy="1032" r="0.9" fill="#3cc24a"/>
<circle cx="1696" cy="1029" r="0.9" fill="#e8c040"/>
<circle cx="1694" cy="1037" r="4.2" fill="#1fa64a"/>
<rect x="1707" y="1031" width="6.5" height="6.5" fill="#3ba7db"/>
<rect x="1739" y="1017" width="19" height="27" rx="8" fill="#1c1e20"/>
</g>
</svg>
</body></html>
